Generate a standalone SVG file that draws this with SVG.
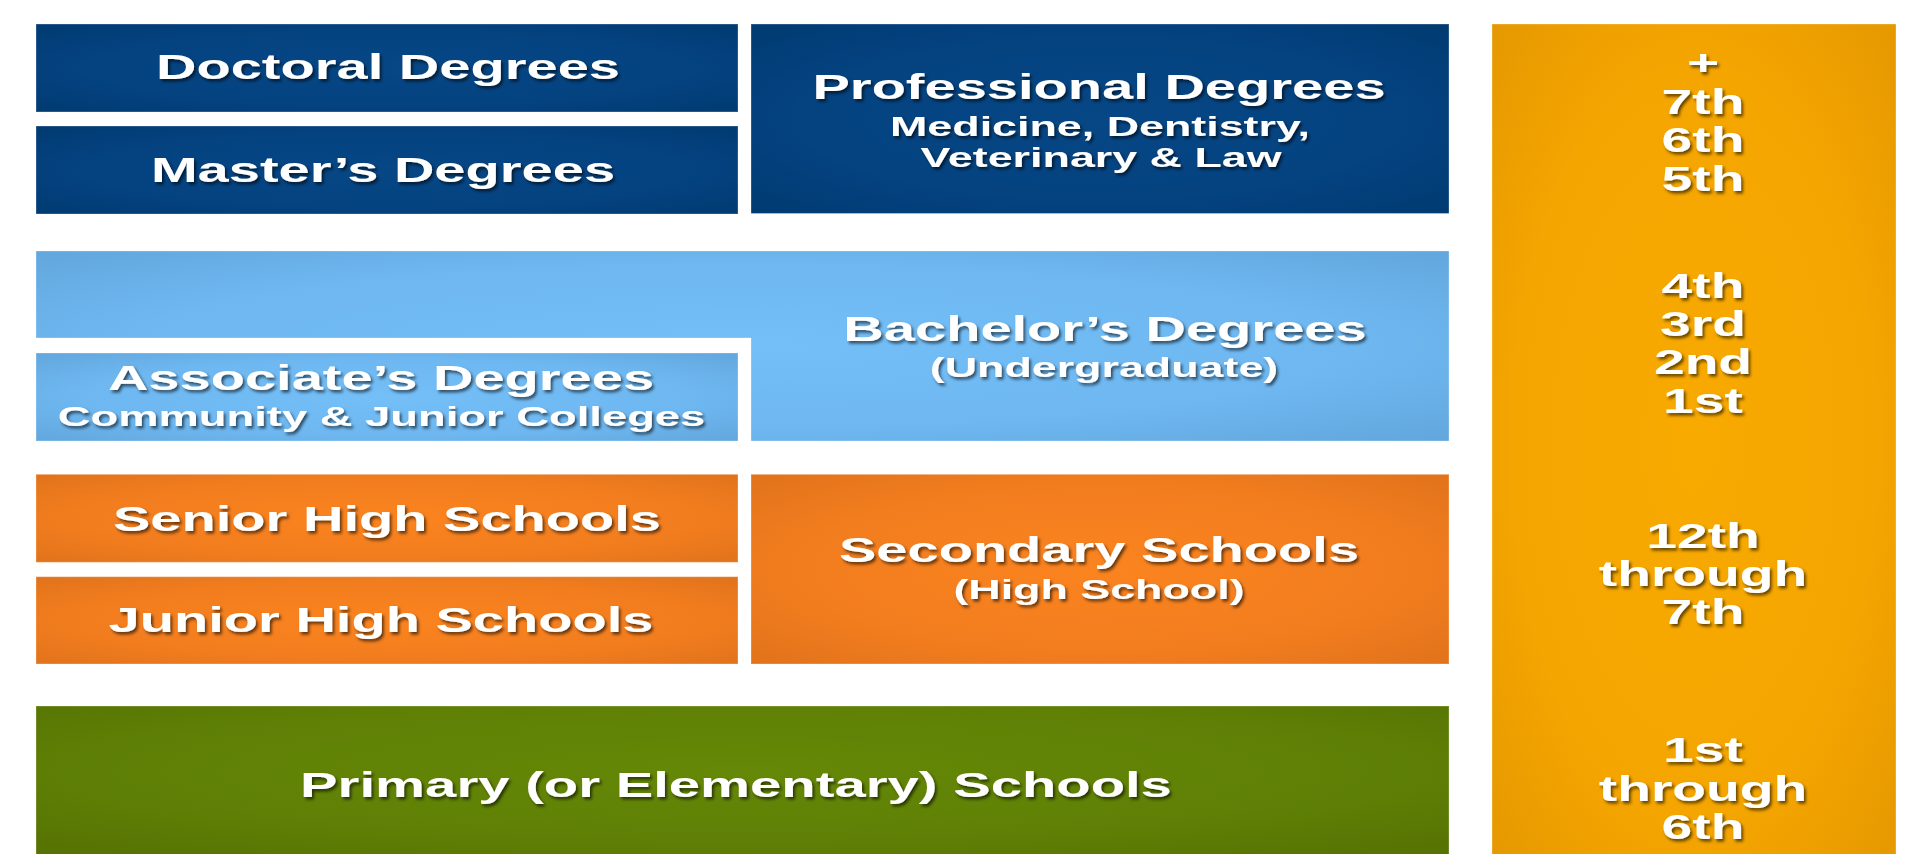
<svg xmlns="http://www.w3.org/2000/svg" width="1919" height="854" viewBox="0 0 1919 854">
<defs>
<radialGradient id="gNavy" cx="50%" cy="50%" r="72%"><stop offset="0" stop-color="#074785"/><stop offset="0.6" stop-color="#044280"/><stop offset="1" stop-color="#003a70"/></radialGradient>
<radialGradient id="gSky" cx="50%" cy="50%" r="72%"><stop offset="0" stop-color="#74bff8"/><stop offset="0.6" stop-color="#6eb7f0"/><stop offset="1" stop-color="#61a6dc"/></radialGradient>
<radialGradient id="gOrange" cx="50%" cy="50%" r="72%"><stop offset="0" stop-color="#fb841f"/><stop offset="0.6" stop-color="#f27d1e"/><stop offset="1" stop-color="#e0721b"/></radialGradient>
<radialGradient id="gGreen" cx="50%" cy="40%" r="72%"><stop offset="0" stop-color="#658807"/><stop offset="0.6" stop-color="#5f8005"/><stop offset="1" stop-color="#567203"/></radialGradient>
<radialGradient id="gAmber" cx="50%" cy="50%" r="75%"><stop offset="0" stop-color="#f9aa00"/><stop offset="0.6" stop-color="#f4a500"/><stop offset="1" stop-color="#e29600"/></radialGradient>
<filter id="sh" x="-10%" y="-30%" width="120%" height="160%"><feGaussianBlur in="SourceGraphic" stdDeviation="0.5" result="b"/><feDropShadow in="b" dx="2" dy="2.5" stdDeviation="1.6" flood-color="#000" flood-opacity="0.6"/></filter>
</defs>
<style>
.box{stroke:#ffffff;stroke-opacity:0.3;stroke-width:1}
.t{font-family:"Liberation Sans",Arial,sans-serif;font-weight:bold;fill:#ffffff;text-anchor:middle}
.h{font-size:34.5px}
.s{font-size:27.5px}
.g{font-size:34.5px}
</style>
<rect width="1919" height="854" fill="#ffffff"/>

<g id="grades">
<rect class="box" x="1492" y="24" width="404" height="840" fill="url(#gAmber)"/>
<g filter="url(#sh)">
<text class="t g" transform="translate(1703,75) scale(1.6,1)">+</text>
<text class="t g" transform="translate(1703,113.5) scale(1.6,1)">7th</text>
<text class="t g" transform="translate(1703,152) scale(1.6,1)">6th</text>
<text class="t g" transform="translate(1703,190.5) scale(1.6,1)">5th</text>
<text class="t g" transform="translate(1703,297.5) scale(1.6,1)">4th</text>
<text class="t g" transform="translate(1703,335.5) scale(1.6,1)">3rd</text>
<text class="t g" transform="translate(1703,373.5) scale(1.6,1)">2nd</text>
<text class="t g" transform="translate(1703,412.5) scale(1.6,1)">1st</text>
<text class="t g" transform="translate(1703,547.5) scale(1.6,1)">12th</text>
<text class="t g" transform="translate(1703,586) scale(1.6,1)">through</text>
<text class="t g" transform="translate(1703,624) scale(1.6,1)">7th</text>
<text class="t g" transform="translate(1703,762) scale(1.6,1)">1st</text>
<text class="t g" transform="translate(1703,800.5) scale(1.6,1)">through</text>
<text class="t g" transform="translate(1703,839) scale(1.6,1)">6th</text>
</g>
</g>

<g id="doctoral">
<rect class="box" x="36" y="24" width="702" height="88" fill="url(#gNavy)"/>
<g filter="url(#sh)"><text class="t h" transform="translate(388,79) scale(1.625,1)">Doctoral Degrees</text></g>
</g>

<g id="masters">
<rect class="box" x="36" y="126" width="702" height="88" fill="url(#gNavy)"/>
<g filter="url(#sh)"><text class="t h" transform="translate(383,181.5) scale(1.625,1)">Master’s Degrees</text></g>
</g>

<g id="professional">
<rect class="box" x="751" y="24" width="698" height="189.5" fill="url(#gNavy)"/>
<g filter="url(#sh)">
<text class="t h" transform="translate(1099,98.5) scale(1.625,1)">Professional Degrees</text>
<text class="t s" transform="translate(1100,135.5) scale(1.63,1)">Medicine, Dentistry,</text>
<text class="t s" transform="translate(1101,167) scale(1.63,1)">Veterinary &amp; Law</text>
</g>
</g>

<g id="bachelors">
<path class="box" d="M36,251 H1449 V441 H751 V338 H36 Z" fill="url(#gSky)"/>
<g filter="url(#sh)">
<text class="t h" transform="translate(1105,340.5) scale(1.625,1)">Bachelor’s Degrees</text>
<text class="t s" transform="translate(1104,377) scale(1.63,1)">(Undergraduate)</text>
</g>
</g>

<g id="associates">
<rect class="box" x="36" y="353" width="702" height="88" fill="url(#gSky)"/>
<g filter="url(#sh)">
<text class="t h" transform="translate(381,389.5) scale(1.625,1)">Associate’s Degrees</text>
<text class="t s" transform="translate(381.5,425.5) scale(1.65,1)">Community &amp; Junior Colleges</text>
</g>
</g>

<g id="senior-high">
<rect class="box" x="36" y="474.3" width="702" height="88" fill="url(#gOrange)"/>
<g filter="url(#sh)"><text class="t h" transform="translate(387,530.5) scale(1.625,1)">Senior High Schools</text></g>
</g>

<g id="junior-high">
<rect class="box" x="36" y="576.7" width="702" height="87.3" fill="url(#gOrange)"/>
<g filter="url(#sh)"><text class="t h" transform="translate(381,631.5) scale(1.625,1)">Junior High Schools</text></g>
</g>

<g id="secondary">
<rect class="box" x="751" y="474.3" width="698" height="189.7" fill="url(#gOrange)"/>
<g filter="url(#sh)">
<text class="t h" transform="translate(1099,562) scale(1.625,1)">Secondary Schools</text>
<text class="t s" transform="translate(1099,598.5) scale(1.63,1)">(High School)</text>
</g>
</g>

<g id="primary">
<rect class="box" x="36" y="706" width="1413" height="160" fill="url(#gGreen)"/>
<g filter="url(#sh)"><text class="t h" transform="translate(736,796.5) scale(1.63,1)">Primary (or Elementary) Schools</text></g>
</g>

<g id="connectors"/>
</svg>
